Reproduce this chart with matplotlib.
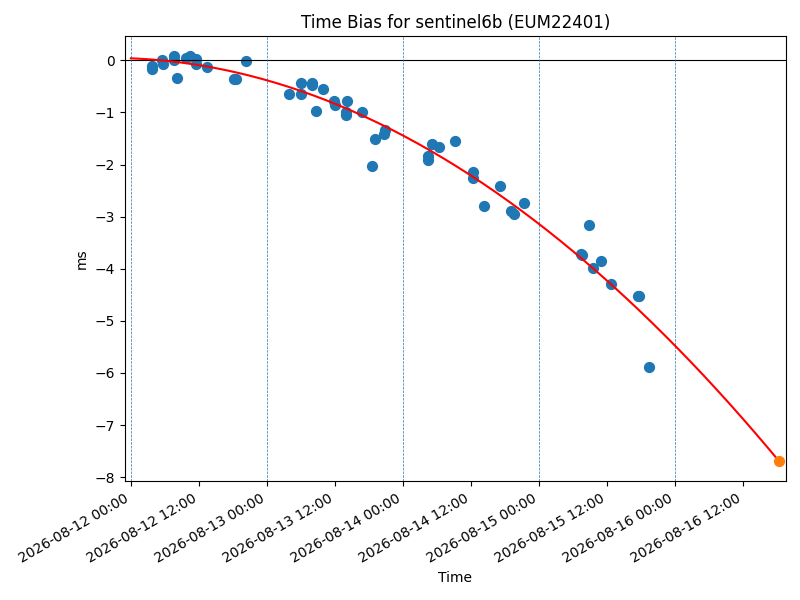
import numpy as np
import pandas as pd
import matplotlib
matplotlib.use('Agg')
import matplotlib.pyplot as plt
import matplotlib.dates as mdates

# 観測データ (時刻, ms)
obs_time = [
    "2026-08-12 03:39", "2026-08-12 03:46", "2026-08-12 05:35", "2026-08-12 05:42",
    "2026-08-12 07:35", "2026-08-12 07:36", "2026-08-12 08:10", "2026-08-12 09:43",
    "2026-08-12 10:25", "2026-08-12 11:27", "2026-08-12 11:29", "2026-08-12 13:28",
    "2026-08-12 18:11", "2026-08-12 18:32", "2026-08-12 20:17",
    "2026-08-13 03:56", "2026-08-13 05:58", "2026-08-13 06:02", "2026-08-13 07:58",
    "2026-08-13 08:00", "2026-08-13 08:39", "2026-08-13 09:56", "2026-08-13 11:53",
    "2026-08-13 12:00", "2026-08-13 14:04", "2026-08-13 13:56", "2026-08-13 13:53",
    "2026-08-13 16:49", "2026-08-13 18:35", "2026-08-13 19:04", "2026-08-13 20:42",
    "2026-08-13 20:49",
    "2026-08-14 04:27", "2026-08-14 04:29", "2026-08-14 05:04", "2026-08-14 06:21",
    "2026-08-14 09:11", "2026-08-14 12:24", "2026-08-14 12:26", "2026-08-14 14:21",
    "2026-08-14 17:07", "2026-08-14 19:04", "2026-08-14 19:32", "2026-08-14 21:25",
    "2026-08-15 07:30", "2026-08-15 07:40", "2026-08-15 08:53", "2026-08-15 09:29",
    "2026-08-15 11:00", "2026-08-15 12:46", "2026-08-15 17:30", "2026-08-15 17:42",
    "2026-08-15 19:31",
]
obs_bias = [
    -0.11, -0.17, 0.00, -0.06,
    0.08, 0.00, -0.33, 0.05,
    0.08, 0.02, -0.06, -0.12,
    -0.35, -0.35, -0.02,
    -0.64, -0.43, -0.65, -0.43,
    -0.48, -0.98, -0.54, -0.77,
    -0.86, -0.77, -0.99, -1.05,
    -1.00, -2.03, -1.50, -1.42,
    -1.34,
    -1.84, -1.91, -1.61, -1.67,
    -1.55, -2.15, -2.25, -2.80,
    -2.41, -2.90, -2.95, -2.74,
    -3.72, -3.73, -3.16, -3.99,
    -3.85, -4.29, -4.52, -4.53,
    -5.88,
]

# フィット曲線 (2次式, 係数は ms/day^2, ms/day, ms)
fit_coef = [-0.319, -0.1025, 0.04]
fit_start = "2026-08-12 00:00"
pred_time = "2026-08-16 18:21"

t_obs = pd.to_datetime(obs_time)
t0 = pd.Timestamp(fit_start)
t_pred = pd.Timestamp(pred_time)

t_fit = pd.date_range(t0, t_pred, periods=200)
d_fit = (t_fit - t0) / pd.Timedelta(days=1)
y_fit = np.polyval(fit_coef, d_fit)
y_pred = np.polyval(fit_coef, (t_pred - t0) / pd.Timedelta(days=1))

fig, ax = plt.subplots(figsize=(8, 6), dpi=100)

ax.scatter(t_obs, obs_bias, s=50, zorder=2)
ax.plot(t_fit, y_fit, c='r', zorder=3)
ax.scatter([t_pred], [y_pred], s=50, c='C1', zorder=4)

ax.axhline(0, color='k', lw=0.8)
for day in pd.date_range("2026-08-12", "2026-08-16", freq="D"):
    ax.axvline(day, color='C0', ls='--', lw=0.5)

ax.xaxis.set_major_locator(mdates.HourLocator(byhour=[0, 12]))
ax.xaxis.set_major_formatter(mdates.DateFormatter('%Y-%m-%d %H:%M'))
ax.set_xlim(pd.Timestamp("2026-08-11 22:56"), pd.Timestamp("2026-08-16 19:32"))

ax.set_title("Time Bias for sentinel6b (EUM22401)")
ax.set_xlabel("Time")
ax.set_ylabel("ms")
fig.autofmt_xdate()
fig.subplots_adjust(left=0.156, right=0.982, top=0.940, bottom=0.198)
fig.savefig("out.png")
